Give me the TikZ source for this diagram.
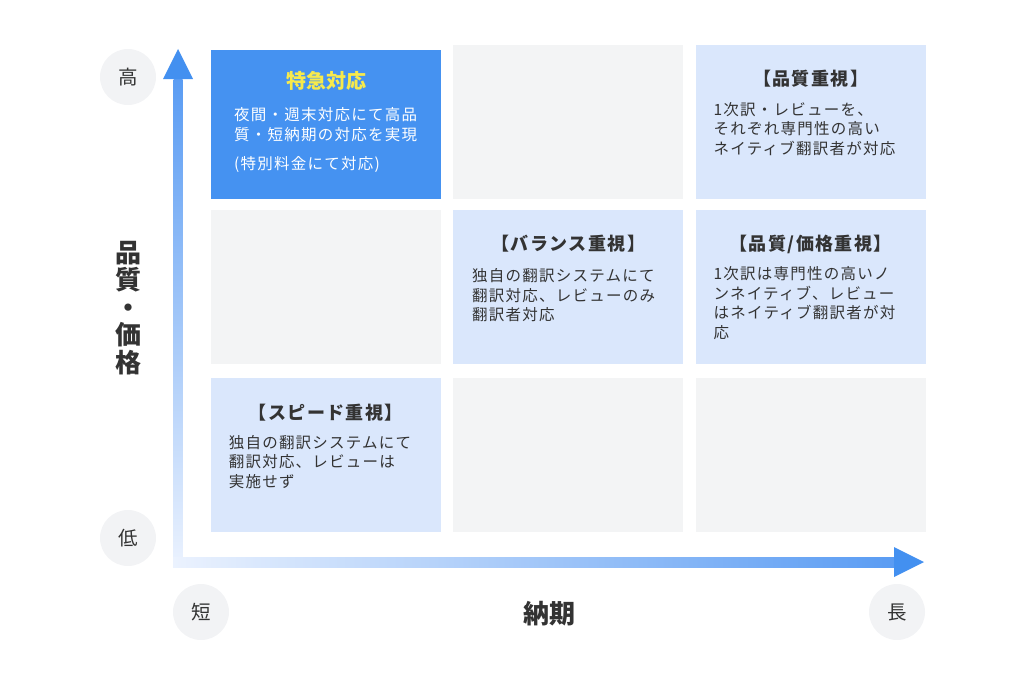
\documentclass[tikz,border=0pt]{standalone}
\usepackage{fontspec}
\setmainfont{Noto Sans CJK JP}
\newfontfamily\spacedfont[LetterSpace=8]{Noto Sans CJK JP}
\usetikzlibrary{positioning, calc}

\definecolor{cellBlue}{HTML}{4592F1}
\definecolor{cellLight}{HTML}{DAE7FC}
\definecolor{cellGray}{HTML}{F3F4F5}
\definecolor{titleYellow}{HTML}{F7EA4C}
\definecolor{axisHead}{HTML}{4390F0}
\definecolor{axisBlue}{HTML}{5A9CF3}
\definecolor{axisLight}{HTML}{EBF2FE}
\definecolor{tickGray}{HTML}{F2F3F5}
\definecolor{textDark}{HTML}{333333}

\begin{document}
\begin{tikzpicture}[x=1pt, y=-1pt,
    cell/.style={rectangle, minimum width=230pt, minimum height=154pt, inner sep=0pt, anchor=north west},
    celltitle/.style={inner sep=0pt, text=textDark, font=\spacedfont\bfseries\fontsize{18}{22}\selectfont},
    cellbody/.style={inner sep=0pt, anchor=north west, align=left, text=textDark, font=\spacedfont\fontsize{15.5}{19.5}\selectfont},
    tick/.style={circle, fill=tickGray, minimum size=56pt, inner sep=0pt, text=textDark, font=\fontsize{19.5}{20}\selectfont}]
    \useasboundingbox (0,0) rectangle (1024,685);

    % Grid
    \node [cell, fill=cellGray] (topmid) at (453,45) {};
    \node [cell, fill=cellLight, right=12pt of topmid] (quality) {};
    \node [cell, fill=cellBlue, minimum height=149pt, anchor=south west] (express) at (211,199) {};
    \node [cell, fill=cellGray, below=10pt of topmid.south west, anchor=north east, xshift=-12pt] (midleft) {};
    \node [cell, fill=cellLight, right=12pt of midleft] (balance) {};
    \node [cell, fill=cellLight, right=12pt of balance] (qprice) {};
    \node [cell, fill=cellLight, below=14pt of midleft] (speed) {};
    \node [cell, fill=cellGray, right=12pt of speed] (lowmid) {};
    \node [cell, fill=cellGray, right=12pt of lowmid] (lowright) {};

    % Texts
    \node [celltitle, text=titleYellow, font=\bfseries\fontsize{20}{24}\selectfont] (expressT) at ($(express.north)+(0,31)$) {特急対応};
    \node [cellbody, text=white] (expressB) at ($(express.north west)+(23,58)$) {夜間・週末対応にて高品\\質・短納期の対応を実現\\[10pt](特別料金にて対応)};
    \node [celltitle] (qualityT) at ($(quality.north)+(0,34)$) {【品質重視】};
    \node [cellbody] (qualityB) at ($(quality.north west)+(18,57)$) {1次訳・レビューを、\\それぞれ専門性の高い\\ネイティブ翻訳者が対応};
    \node [celltitle] (balanceT) at ($(balance.north)+(0,34)$) {【バランス重視】};
    \node [cellbody] (balanceB) at ($(balance.north west)+(19,59)$) {独自の翻訳システムにて\\翻訳対応、レビューのみ\\翻訳者対応};
    \node [celltitle] (qpriceT) at ($(qprice.north)+(0,35)$) {【品質/価格重視】};
    \node [cellbody] (qpriceB) at ($(qprice.north west)+(18,57)$) {1次訳は専門性の高いノ\\ンネイティブ、レビュー\\はネイティブ翻訳者が対\\応};
    \node [celltitle] (speedT) at ($(speed.north)+(0,35)$) {【スピード重視】};
    \node [cellbody] (speedB) at ($(speed.north west)+(18,57)$) {独自の翻訳システムにて\\翻訳対応、レビューは\\実施せず};

    % Axes
    \coordinate (origin) at (178,562);
    \coordinate (ytip) at (178,49);
    \coordinate (xtip) at (924,562);
    \shade [bottom color=axisLight, top color=axisBlue] ($(origin)+(-4.5,5)$) rectangle ($(ytip)+(4.5,30)$);
    \fill [axisHead] ($(ytip)+(-15,30)$) -- (ytip) -- ($(ytip)+(15,30)$) -- cycle;
    \shade [left color=axisLight, right color=axisBlue] ($(origin)+(-5,-5)$) rectangle ($(xtip)+(-30,5)$);
    \fill [axisHead] ($(xtip)+(-30,-15)$) -- (xtip) -- ($(xtip)+(-30,15)$) -- cycle;

    % Axis labels
    \node [tick] (high) at (128,77) {高};
    \node [tick] (low) at (128,538) {低};
    \node [tick] (short) at (201,612) {短};
    \node [tick] (long) at (897,612) {長};
    \node [align=center, inner sep=0pt, text=textDark, font=\bfseries\fontsize{26}{27.5}\selectfont] (yname) at (128,308) {品\\質\\・\\価\\格};
    \node [inner sep=0pt, text=textDark, font=\bfseries\fontsize{26}{30}\selectfont] (xname) at (549,614) {納期};
\end{tikzpicture}
\end{document}
